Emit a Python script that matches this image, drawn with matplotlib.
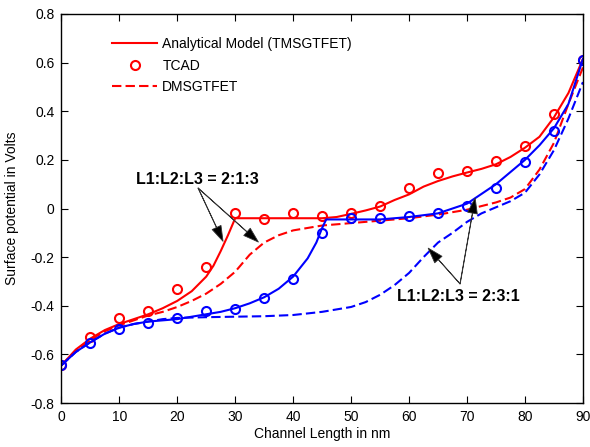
import numpy as np
import matplotlib
matplotlib.use("Agg")
import matplotlib.pyplot as plt

plt.rcParams['font.family'] = ['Liberation Sans', 'DejaVu Sans']

# TMSGTFET analytical model, L1:L2:L3 = 2:1:3
x_red = [0, 2.5, 5, 7.5, 10, 12.5, 15, 17.5, 20, 22.5, 25, 26.25, 27.5, 28.75, 30,
         35, 40, 45, 47.5, 50, 52.5, 55, 57.5, 60, 62.5, 65, 67.5, 70, 72.5, 75,
         77.5, 80, 82.5, 85, 87.5, 90]
y_red = [-0.645, -0.58, -0.535, -0.50, -0.475, -0.455, -0.435, -0.41, -0.38, -0.34, -0.28,
         -0.235, -0.175, -0.11, -0.04,
         -0.04, -0.04, -0.04, -0.035, -0.022, -0.008, 0.008, 0.035, 0.058, 0.09, 0.113,
         0.132, 0.148, 0.163, 0.182, 0.212, 0.25, 0.295, 0.375, 0.475, 0.615]

# DMSGTFET, L1:L2:L3 = 2:1:3
x_red_d = [0, 2.5, 5, 7.5, 10, 12.5, 15, 17.5, 20, 22.5, 25, 27.5, 30, 32.5, 35, 37.5,
           40, 45, 50, 55, 60, 65, 70, 75, 77.5, 80, 82.5, 85, 87.5, 90]
y_red_d = [-0.645, -0.585, -0.54, -0.505, -0.48, -0.46, -0.44, -0.425, -0.405, -0.38, -0.35,
           -0.31, -0.26, -0.19, -0.14, -0.11, -0.09, -0.07, -0.06, -0.05, -0.04, -0.025,
           -0.005, 0.025, 0.045, 0.08, 0.16, 0.27, 0.43, 0.58]

# TMSGTFET analytical model, L1:L2:L3 = 2:3:1
x_blue = [0, 2.5, 5, 7.5, 10, 12.5, 15, 17.5, 20, 22.5, 25, 27.5, 30, 32.5, 35, 37.5,
          40, 42.5, 44, 45, 45.7, 50, 55, 60, 65, 70, 72.5, 75, 77.5, 80, 82.5, 85, 87.5, 90]
y_blue = [-0.645, -0.59, -0.55, -0.515, -0.49, -0.475, -0.465, -0.46, -0.455, -0.445, -0.435,
          -0.425, -0.41, -0.39, -0.365, -0.33, -0.28, -0.205, -0.14, -0.08, -0.045, -0.045,
          -0.045, -0.035, -0.02, 0.02, 0.06, 0.10, 0.15, 0.20, 0.26, 0.33, 0.43, 0.615]

# DMSGTFET, L1:L2:L3 = 2:3:1
x_blue_d = [0, 2.5, 5, 7.5, 10, 12.5, 15, 17.5, 20, 25, 30, 35, 40, 45, 50, 52.5, 55,
            57.5, 60, 62.5, 65, 67.5, 70, 72.5, 75, 77.5, 80, 82.5, 85, 87.5, 90]
y_blue_d = [-0.645, -0.59, -0.55, -0.515, -0.49, -0.475, -0.465, -0.455, -0.45, -0.447,
            -0.445, -0.443, -0.438, -0.425, -0.405, -0.385, -0.355, -0.315, -0.265, -0.20,
            -0.14, -0.10, -0.055, -0.02, 0.005, 0.03, 0.065, 0.14, 0.24, 0.37, 0.52]

# TCAD points
x_tcad = [0, 5, 10, 15, 20, 25, 30, 35, 40, 45, 50, 55, 60, 65, 70, 75, 80, 85, 90]
tcad_red = [-0.645, -0.53, -0.45, -0.42, -0.33, -0.24, -0.02, -0.043, -0.02, -0.03, -0.02,
            0.01, 0.085, 0.146, 0.153, 0.195, 0.257, 0.39, 0.612]
tcad_blue = [-0.645, -0.555, -0.496, -0.47, -0.45, -0.42, -0.415, -0.37, -0.29, -0.10,
             -0.04, -0.04, -0.03, -0.02, 0.01, 0.085, 0.19, 0.32, 0.612]

fig = plt.figure(figsize=(5.9, 4.47), dpi=100)
ax = fig.add_axes([0.104, 0.0984, 0.884, 0.8703])

lw = 1.5
dash = (4.5, 2)
ax.plot(x_red, y_red, '-', color='#ff0000', lw=lw, label='Analytical Model (TMSGTFET)')
ax.plot(x_tcad, tcad_red, 'o', color='#ff0000', mfc='none', ms=6.5, mew=1.5, label='TCAD')
ax.plot(x_red_d, y_red_d, '--', dashes=dash, color='#ff0000', lw=lw, label='DMSGTFET')
ax.plot(x_blue, y_blue, '-', color='#0000ff', lw=lw)
ax.plot(x_tcad, tcad_blue, 'o', color='#0000ff', mfc='none', ms=6.5, mew=1.5)
ax.plot(x_blue_d, y_blue_d, '--', dashes=dash, color='#0000ff', lw=lw)

ax.set_xlim(0, 90)
ax.set_ylim(-0.8, 0.8)
ax.set_xticks(np.arange(0, 91, 10))
ax.set_yticks(np.arange(-0.8, 0.81, 0.2))
ax.set_yticklabels(['-0.8', '-0.6', '-0.4', '-0.2', '0', '0.2', '0.4', '0.6', '0.8'])
ax.tick_params(direction='in', top=True, right=True, length=5, labelsize=10, pad=5)
for s in ax.spines.values():
    s.set_linewidth(1.0)
ax.set_xlabel('Channel Length in nm', fontsize=10, labelpad=2)
ax.set_ylabel('Surface potential in Volts', fontsize=10, labelpad=8)

leg = ax.legend(loc='upper left', bbox_to_anchor=(0.087, 0.955), frameon=False,
                fontsize=10, handlelength=3.2, handletextpad=0.4, labelspacing=0.55,
                borderaxespad=0, borderpad=0.4)

arrow = dict(facecolor='black', edgecolor='#333333', width=0.2, headwidth=7,
             headlength=11, shrink=0, lw=0.6)
ax.text(23.5, 0.121, 'L1:L2:L3 = 2:1:3', fontsize=11.5, fontweight='bold',
        ha='center', va='center')
ax.annotate('', xy=(27.9, -0.135), xytext=(23.6, 0.084), arrowprops=arrow)
ax.annotate('', xy=(34.0, -0.138), xytext=(23.6, 0.084), arrowprops=arrow)

ax.text(68.5, -0.36, 'L1:L2:L3 = 2:3:1', fontsize=11.5, fontweight='bold',
        ha='center', va='center')
ax.annotate('', xy=(63.3, -0.163), xytext=(68.8, -0.31), arrowprops=arrow)
ax.annotate('', xy=(71.4, 0.043), xytext=(68.8, -0.31), arrowprops=arrow)

fig.savefig('out.png', dpi=100)
